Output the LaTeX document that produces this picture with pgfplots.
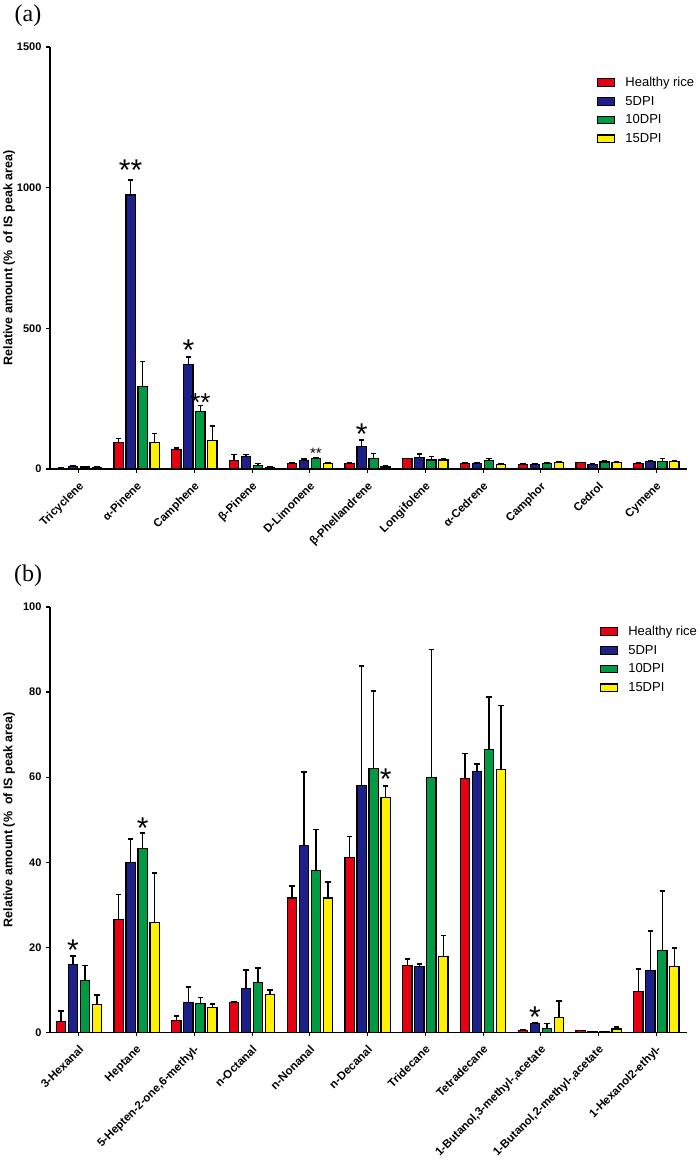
\documentclass[border=0pt]{standalone}
\usepackage{fontspec}
\setmainfont{Liberation Sans}
\newfontfamily\serif{Liberation Serif}
\usepackage{pgfplots}
\usepackage{pgfplotstable}
\pgfplotsset{compat=1.18}
\definecolor{cred}{HTML}{E60012}
\definecolor{cblue}{HTML}{1D2088}
\definecolor{cgreen}{HTML}{009944}
\definecolor{cyellow}{HTML}{FFF100}

\pgfplotstableread{
x h he d5 d5e d10 d10e d15 d15e
0 2 1 9 2 7 2 5 2
1 95 13 974 53 293 90 94 33
2 70 4 372 26 204 22 101 52
3 30 21 44 8 14 5 6 2
4 19 2 30 6 36 3 18 4
5 21 3 79 24 38 18 7 3
6 36 2 41 13 32 12 32 3
7 20 2 19 3 31 6 17 3
8 15 3 15 3 18 3 22 3
9 22 2 15 2 25 4 24 3
10 19 2 28 3 26 12 26 3
}\tabA

\pgfplotstableread{
x h he d5 d5e d10 d10e d15 d15e
0 2.5 2.5 16.0 2.0 12.2 3.5 6.6 2.2
1 26.6 5.8 40.0 5.5 43.3 3.6 25.9 11.6
2 2.8 1.1 7.0 3.7 6.7 1.5 5.8 0.9
3 7.1 0.2 10.4 4.3 11.8 3.3 8.9 1.1
4 31.6 2.8 44.0 17.2 38.0 9.7 31.6 3.7
5 41.1 4.9 58.1 28.0 62.0 18.3 55.3 2.6
6 15.7 1.6 15.4 0.7 59.9 30.1 17.8 5.0
7 59.6 6.0 61.3 1.8 66.4 12.5 61.7 15.1
8 0.5 0.2 2.0 0.2 1.0 1.1 3.5 3.9
9 0.4 0.1 0.1 0.0 0.1 0.0 0.8 0.5
10 9.6 5.3 14.6 9.2 19.3 13.9 15.5 4.4
}\tabB

\tikzset{sigstar/.style={anchor=north, inner sep=0pt, font=\fontsize{30}{30}\selectfont}}

\pgfplotsset{
  mybars/.style={
    scale only axis, width=637pt,
    xmin=-0.5, xmax=10.53, ymin=0,
    ybar=2.8pt, bar width=9.2pt,
    axis lines*=left,
    axis line style={line width=1.3pt, black},
    tick align=outside, major tick length=4pt,
    tick style={line width=1.2pt, black},
    xtick={0,...,10},
    /pgf/number format/assume math mode=true,
    /pgf/number format/1000 sep={},
    yticklabel style={font=\bfseries\fontsize{11}{12}\selectfont, xshift=-1pt},
    x tick label style={rotate=45, anchor=north east, font=\bfseries\fontsize{11.5}{12}\selectfont, inner sep=1pt, xshift=-5pt, yshift=-4pt},
    ylabel={Relative amount (\%\ \ of IS peak area)},
    ylabel style={font=\bfseries\fontsize{12.5}{13}\selectfont, at={(axis description cs:-0.064,0.5)}, anchor=center},
    clip=false,
    legend cell align=left,
    legend style={draw=none, fill=none, anchor=north west, font=\fontsize{13}{13}\selectfont,
      inner sep=0pt, row sep=0pt,
      nodes={inner xsep=0pt, inner ysep=2.85pt, text height=10pt, text depth=3pt}},
    legend image code/.code={\draw[#1, draw=black, line width=1.1pt] (0pt,-3.5pt) rectangle (17pt,4pt); \path (0pt,0pt) (27pt,0pt);},
  },
  myerr/.style={error bars/.cd, y dir=plus, y explicit, error mark=-,
    error bar style={line width=1.5pt, black},
    error mark options={rotate=90, black, line width=1.5pt, mark size=2.8pt}},
  b1/.style={fill=cred, draw=black, line width=1.1pt, myerr},
  b2/.style={fill=cblue, draw=black, line width=1.1pt, myerr},
  b3/.style={fill=cgreen, draw=black, line width=1.1pt, myerr},
  b4/.style={fill=cyellow, draw=black, line width=1.1pt, myerr},
}

\begin{document}
\begin{tikzpicture}
\useasboundingbox (0,0) rectangle (700pt,-1163pt);
\node[font=\serif\fontsize{24}{24}\selectfont] at (28pt,-16pt) {(a)};
\node[font=\serif\fontsize{24}{24}\selectfont] at (28pt,-576pt) {(b)};

\begin{axis}[mybars, at={(50pt,-469pt)}, anchor=south west, height=422pt,
  ymax=1500, ytick={0,500,1000,1500},
  xticklabels={Tricyclene,α-Pinene,Camphene,β-Pinene,D-Limonene,β-Phellandrene,Longifolene,α-Cedrene,Camphor,Cedrol,Cymene},
  legend style={at={(axis description cs:0.859,0.9375)}},
]
\addplot[b1] table[x=x, y=h, y error=he] {\tabA};
\addplot[b2] table[x=x, y=d5, y error=d5e] {\tabA};
\addplot[b3] table[x=x, y=d10, y error=d10e] {\tabA};
\addplot[b4] table[x=x, y=d15, y error=d15e] {\tabA};
\legend{Healthy rice,5DPI,10DPI,15DPI}
\node[sigstar] at (axis cs:0.896,1098) {**};
\node[sigstar] at (axis cs:1.896,459) {*};
\node[sigstar, font=\fontsize{26}{26}\selectfont] at (axis cs:2.104,269) {**};
\node[sigstar, font=\fontsize{15}{15}\selectfont] at (axis cs:4.104,76) {**};
\node[sigstar] at (axis cs:4.896,162) {*};
\end{axis}

\begin{axis}[mybars, at={(50pt,-1032.4pt)}, anchor=south west, height=425.4pt,
  ymax=100, ytick={0,20,40,60,80,100},
  xticklabels={3-Hexanal,Heptane,{5-Hepten-2-one,6-methyl-},n-Octanal,n-Nonanal,n-Decanal,Tridecane,Tetradecane,{1-Butanol,3-methyl-,acetate},{1-Butanol,2-methyl-,acetate},1-Hexanol2-ethyl-},
  legend style={at={(axis description cs:0.8634,0.964)}},
]
\addplot[b1] table[x=x, y=h, y error=he] {\tabB};
\addplot[b2] table[x=x, y=d5, y error=d5e] {\tabB};
\addplot[b3] table[x=x, y=d10, y error=d10e] {\tabB};
\addplot[b4] table[x=x, y=d15, y error=d15e] {\tabB};
\legend{Healthy rice,5DPI,10DPI,15DPI}
\node[sigstar] at (axis cs:-0.104,21.7) {*};
\node[sigstar] at (axis cs:1.104,50.6) {*};
\node[sigstar] at (axis cs:5.311,62.1) {*};
\node[sigstar] at (axis cs:7.896,6.0) {*};
\end{axis}
\end{tikzpicture}
\end{document}
